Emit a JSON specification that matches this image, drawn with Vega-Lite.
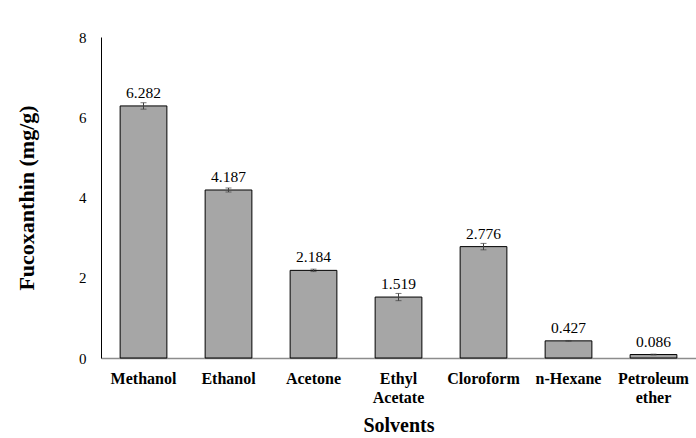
{
  "$schema": "https://vega.github.io/schema/vega-lite/v6.json",
  "autosize": "none",
  "width": 595,
  "height": 321,
  "padding": {"left": 101, "top": 37, "right": 0, "bottom": 80},
  "config": {
    "view": {"stroke": null},
    "font": "Liberation Serif",
    "axis": {"grid": false, "ticks": false, "labelColor": "black", "titleColor": "black", "labelFont": "Liberation Serif", "titleFont": "Liberation Serif"}
  },
  "data": {
    "values": [
      {"solvent": "Methanol", "value": 6.282, "err": 0.08},
      {"solvent": "Ethanol", "value": 4.187, "err": 0.05},
      {"solvent": "Acetone", "value": 2.184, "err": 0.03},
      {"solvent": "Ethyl Acetate", "value": 1.519, "err": 0.09},
      {"solvent": "Cloroform", "value": 2.776, "err": 0.08},
      {"solvent": "n-Hexane", "value": 0.427, "err": 0.01},
      {"solvent": "Petroleum ether", "value": 0.086, "err": 0.01}
    ]
  },
  "transform": [
    {"calculate": "datum.value - datum.err", "as": "lo"},
    {"calculate": "datum.value + datum.err", "as": "hi"}
  ],
  "encoding": {
    "x": {
      "field": "solvent",
      "type": "nominal",
      "sort": null,
      "scale": {"paddingInner": 0.45, "paddingOuter": 0.225},
      "axis": {
        "title": "Solvents",
        "titleFontSize": 20,
        "titleFontWeight": "bold",
        "titlePadding": 10,
        "labelAngle": 0,
        "labelFontSize": 16,
        "labelFontWeight": "bold",
        "labelPadding": 12,
        "labelLineHeight": 19,
        "labelExpr": "split(datum.value, ' ')",
        "domainColor": "#8c8c8c",
        "domainWidth": 1.5
      }
    }
  },
  "layer": [
    {
      "mark": {"type": "bar", "color": "#a6a6a6", "stroke": "black", "strokeWidth": 1},
      "encoding": {
        "y": {
          "field": "value",
          "type": "quantitative",
          "scale": {"domain": [0, 8]},
          "axis": {
            "title": "Fucoxanthin (mg/g)",
            "titleFontSize": 22,
            "titleFontWeight": "bold",
            "titlePadding": 40,
            "values": [0, 2, 4, 6, 8],
            "labelFontSize": 15,
            "labelPadding": 15,
            "domainColor": "black",
            "domainWidth": 1
          }
        }
      }
    },
    {
      "mark": {"type": "rule", "color": "#404040", "strokeWidth": 1},
      "encoding": {"y": {"field": "lo", "type": "quantitative"}, "y2": {"field": "hi"}}
    },
    {
      "mark": {"type": "tick", "color": "#404040", "size": 6, "thickness": 1},
      "encoding": {"y": {"field": "lo", "type": "quantitative"}}
    },
    {
      "mark": {"type": "tick", "color": "#404040", "size": 6, "thickness": 1},
      "encoding": {"y": {"field": "hi", "type": "quantitative"}}
    },
    {
      "mark": {"type": "text", "dy": -13, "fontSize": 15.5, "baseline": "middle", "font": "Liberation Serif"},
      "encoding": {
        "y": {"field": "value", "type": "quantitative"},
        "text": {"field": "value", "type": "quantitative", "format": ".3f"}
      }
    }
  ]
}
